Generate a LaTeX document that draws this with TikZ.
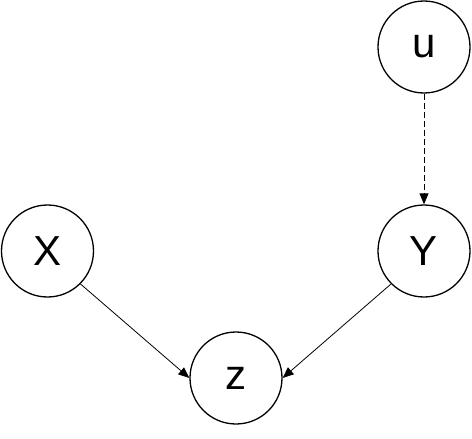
\documentclass[tikz,border=0pt]{standalone}
\usepackage{fontspec}
\setmainfont{Liberation Sans}
\usetikzlibrary{arrows.meta}
\begin{document}
\begin{tikzpicture}[x=1pt,y=-1pt,
  var/.style={circle,draw,line width=1.3pt,minimum size=92pt,inner sep=0pt,font=\fontsize{42}{46}\selectfont},
  edge/.style={line width=0.8pt,-{Triangle[length=11pt,width=9pt]}}]
\useasboundingbox (0,0) rectangle (472,439);
\node[var] (u) at (424,47) {u};
\node[var] (X) at (47.5,251) {X};
\node[var] (Y) at (424,251) {Y};
\node[var] (z) at (236,378) {z};
\draw[edge,dash pattern=on 6pt off 3pt] (u.south) -- (Y.north);
\draw[edge] (X.south east) -- (z.west);
\draw[edge] (Y.south west) -- (z.east);
\end{tikzpicture}
\end{document}
